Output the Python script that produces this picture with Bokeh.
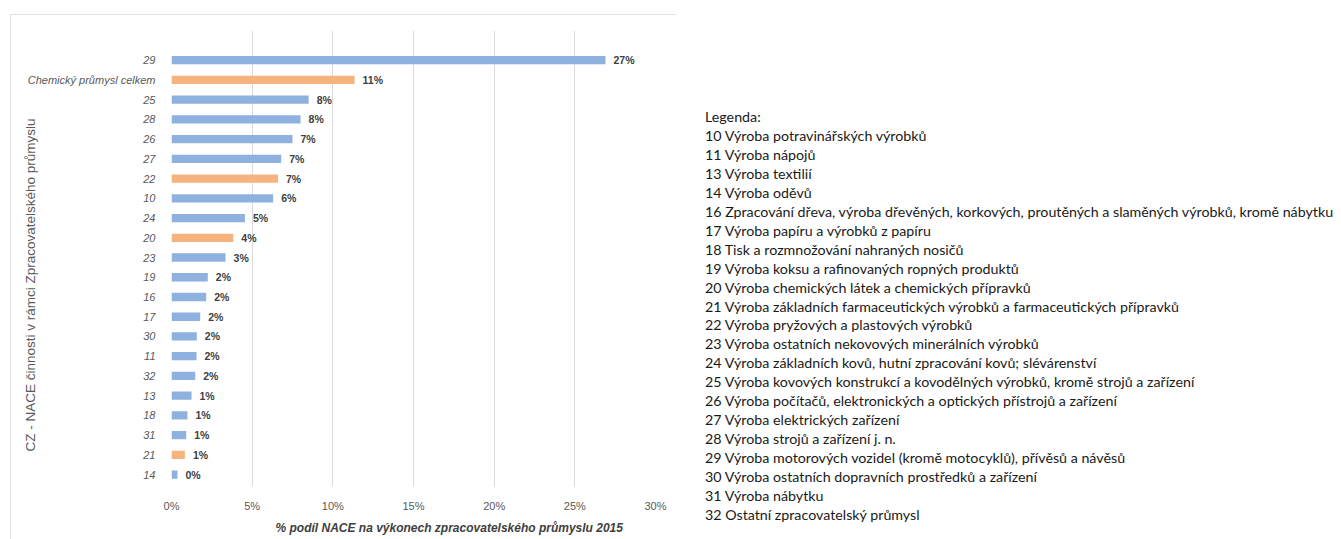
import html
from bokeh.plotting import figure
from bokeh.models import ColumnDataSource, FixedTicker, Range1d, Title, Div
from bokeh.layouts import row
from bokeh.core.properties import value
from bokeh.embed import file_html
from bokeh.resources import INLINE

# ---- data (top to bottom as shown) ----
categories = ["29", "Chemický průmysl celkem", "25", "28", "26", "27", "22", "10", "24", "20",
              "23", "19", "16", "17", "30", "11", "32", "13", "18", "31", "21", "14"]
shares = [26.9, 11.35, 8.5, 8.0, 7.5, 6.8, 6.6, 6.3, 4.55, 3.83,
          3.35, 2.25, 2.15, 1.78, 1.57, 1.55, 1.47, 1.24, 0.99, 0.91, 0.83, 0.37]
share_labels = ["27%", "11%", "8%", "8%", "7%", "7%", "7%", "6%", "5%", "4%",
                "3%", "2%", "2%", "2%", "2%", "2%", "2%", "1%", "1%", "1%", "1%", "0%"]
chemical = ["Chemický průmysl celkem", "22", "20", "21"]
x_ticks = [0, 5, 10, 15, 20, 25, 30]

legend_lines = [
    "Legenda:",
    "10 Výroba potravinářských výrobků",
    "11 Výroba nápojů",
    "13 Výroba textilií",
    "14 Výroba oděvů",
    "16 Zpracování dřeva, výroba dřevěných, korkových, proutěných a slaměných výrobků, kromě nábytku",
    "17 Výroba papíru a výrobků z papíru",
    "18 Tisk a rozmnožování nahraných nosičů",
    "19 Výroba koksu a rafinovaných ropných produktů",
    "20 Výroba chemických látek a chemických přípravků",
    "21 Výroba základních farmaceutických výrobků a farmaceutických přípravků",
    "22 Výroba pryžových a plastových výrobků",
    "23 Výroba ostatních nekovových minerálních výrobků",
    "24 Výroba základních kovů, hutní zpracování kovů; slévárenství",
    "25 Výroba kovových konstrukcí a kovodělných výrobků, kromě strojů a zařízení",
    "26 Výroba počítačů, elektronických a optických přístrojů a zařízení",
    "27 Výroba elektrických zařízení",
    "28 Výroba strojů a zařízení j. n.",
    "29 Výroba motorových vozidel (kromě motocyklů), přívěsů a návěsů",
    "30 Výroba ostatních dopravních prostředků a zařízení",
    "31 Výroba nábytku",
    "32 Ostatní zpracovatelský průmysl",
]

x_title = "% podíl NACE na výkonech zpracovatelského průmyslu 2015"
y_title = "CZ - NACE činnosti v rámci Zpracovatelského průmyslu"

BLUE = "#8eb1e0"
ORANGE = "#f7b37d"
GREY = "#595959"

n = len(categories)
pos = [n - 1 - i for i in range(n)]
colors = [ORANGE if c in chemical else BLUE for c in categories]

src = ColumnDataSource(dict(cat=categories, y=pos, share=shares, lab=share_labels, color=colors))

p = figure(width=666, height=525, output_backend="svg", toolbar_location=None,
           x_range=Range1d(0, 30), y_range=Range1d(-0.6, 22.5),
           min_border_left=161, min_border_right=21, min_border_top=16, min_border_bottom=49)
p.margin = (14, 0, 0, 10)
p.styles = {"outline": "1px solid #d9d9d9", "outline-offset": "-1px"}
p.outline_line_color = None
p.background_fill_color = "white"

p.hbar(y="y", right="share", left=0, height=0.42, color="color", line_color=None, source=src)
p.text(x="share", y="y", text="lab", source=src, x_offset=8, text_baseline="middle",
       text_font=value("Liberation Sans"), text_font_size="10.5px", text_font_style="bold",
       text_color="#404040")

p.xaxis.ticker = FixedTicker(ticks=x_ticks)
p.xaxis.major_label_overrides = {t: f"{t}%" for t in x_ticks}
p.xaxis.axis_line_color = None
p.xaxis.major_tick_line_color = None
p.xaxis.minor_tick_line_color = None
p.xaxis.major_label_standoff = 7
p.xaxis.major_label_text_font = "Liberation Sans"
p.xaxis.major_label_text_font_size = "11px"
p.xaxis.major_label_text_color = GREY

p.yaxis.ticker = FixedTicker(ticks=pos)
p.yaxis.major_label_overrides = {y: c for y, c in zip(pos, categories)}
p.yaxis.axis_line_color = None
p.yaxis.major_tick_line_color = None
p.yaxis.minor_tick_line_color = None
p.yaxis.major_label_standoff = 10
p.yaxis.major_label_text_font = "Liberation Sans"
p.yaxis.major_label_text_font_style = "italic"
p.yaxis.major_label_text_font_size = "11px"
p.yaxis.major_label_text_color = GREY

p.xgrid.ticker = FixedTicker(ticks=x_ticks)
p.xgrid.grid_line_color = "#d9d9d9"
p.ygrid.grid_line_color = None

p.add_layout(Title(text=x_title, align="left", offset=104, standoff=9,
                   text_font="Liberation Sans", text_font_size="12px", text_font_style="bold italic",
                   text_color="#404040"), "below")
p.add_layout(Title(text=y_title, align="left", offset=35, standoff=-26,
                   text_font="Liberation Sans", text_font_size="13.5px", text_font_style="normal",
                   text_color=GREY), "left")

# ---- legend text panel ----
legend_html = "<br>".join(html.escape(t) for t in legend_lines)
q = Div(text=legend_html, width=636, height=431)
q.margin = (108, 0, 0, 29)
q.styles = {"font-family": "Lato", "font-size": "14.25px", "line-height": "18.95px",
            "color": "#1a1a1a", "white-space": "nowrap"}

layout = row(p, q)
open("out.html", "w").write(file_html(layout, INLINE))
